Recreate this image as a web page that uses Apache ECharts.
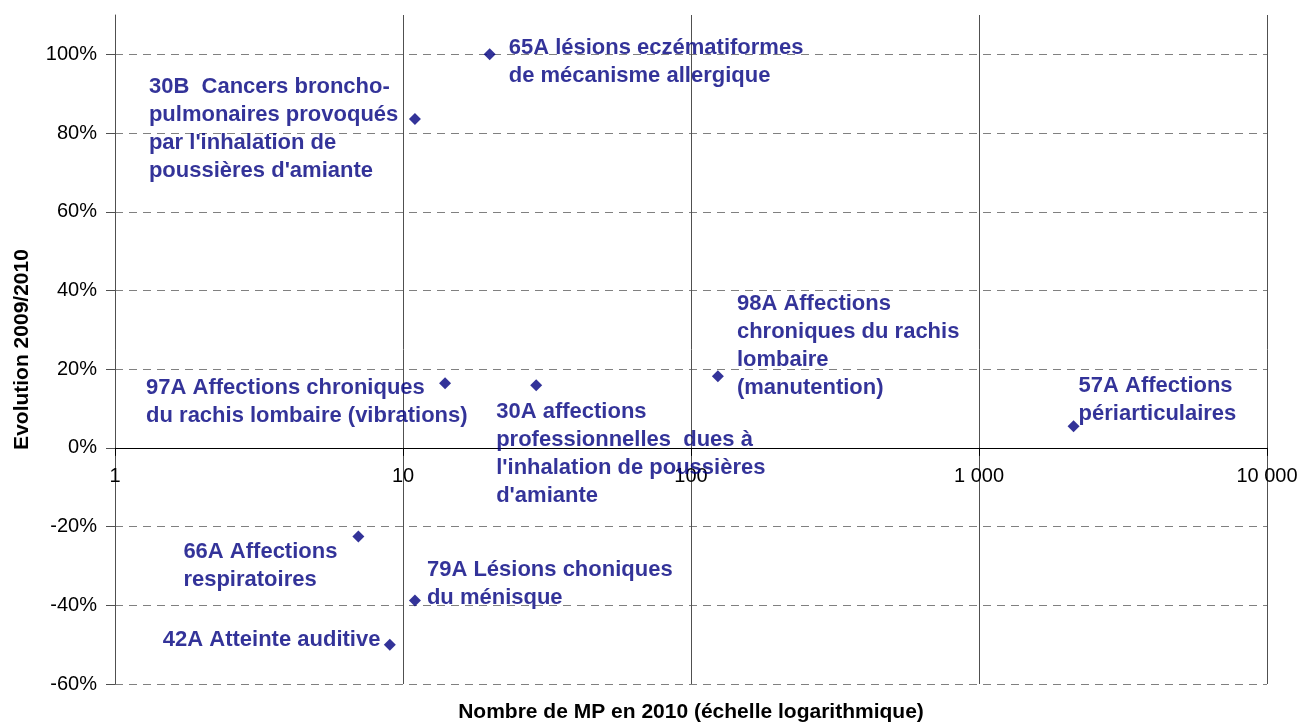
<!DOCTYPE html>
<html>
<head>
<meta charset="utf-8">
<script src="https://cdn.jsdelivr.net/npm/echarts@6/dist/echarts.min.js"></script>
<style>
html,body{margin:0;padding:0;background:#fff;}
#chart{width:1299px;height:722px;}
</style>
</head>
<body>
<div id="chart"></div>
<script>
// ---- data ----
const codes = ['30B', '65A', '97A', '30A', '98A', '57A', '66A', '79A', '42A'];
const labels = [
  "30B  Cancers broncho-\npulmonaires provoqués\npar l'inhalation de\npoussières d'amiante",
  "65A lésions eczématiformes\nde mécanisme allergique",
  "97A Affections chroniques\ndu rachis lombaire (vibrations)",
  "30A affections\nprofessionnelles  dues à\nl'inhalation de poussières\nd'amiante",
  "98A Affections\nchroniques du rachis\nlombaire\n(manutention)",
  "57A Affections\npériarticulaires",
  "66A Affections\nrespiratoires",
  "79A Lésions choniques\ndu ménisque",
  "42A Atteinte auditive"
];
const nombreMP2010 = [11, 20, 14, 29, 124, 2130, 7, 11, 9];
const evolution = [83.6, 100, 16.4, 15.9, 18.2, 5.5, -22.5, -38.8, -50.0];
const xTicks = [1, 10, 100, 1000, 10000];
const yTicks = [-60, -40, -20, 0, 20, 40, 60, 80, 100];
const yMin = -60, yMax = 110;

// label placement relative to each point (layout, not data)
const labelOffsets = [
  [-266, -46], [19, -20], [-299, -9], [-40, 13], [19, -86],
  [5, -54], [-175, 2], [12, -45], [-227, -19]
];

const FONT = 'Liberation Sans, Arial, sans-serif';
const NAVY = '#000080';

const W = 1299, H = 722;
const GRID = { left: 115, right: 32, top: 15, bottom: 38 };
const plotH = H - GRID.top - GRID.bottom;
// move x axis (line, ticks, labels) up to the y = 0 level
const xAxisOffset = -((0 - yMin) / (yMax - yMin)) * plotH;

const points = nombreMP2010.map((x, i) => ({
  name: codes[i],
  value: [x, evolution[i]],
  label: { offset: labelOffsets[i] }
}));

function fmtThousands(v) {
  return String(Math.round(v)).replace(/\B(?=(\d{3})+(?!\d))/g, ' ');
}

const splitColors = yTicks.map(() => '#808080').concat(['rgba(0,0,0,0)']);

const chart = echarts.init(document.getElementById('chart'), null, { renderer: 'canvas' });
chart.setOption({
  animation: false,
  backgroundColor: '#fff',
  grid: {
    left: GRID.left, right: GRID.right, top: GRID.top, bottom: GRID.bottom,
    containLabel: false, outerBoundsMode: 'none'
  },
  xAxis: {
    type: 'log',
    logBase: 10,
    min: xTicks[0],
    max: xTicks[xTicks.length - 1],
    position: 'bottom',
    offset: xAxisOffset,
    axisLine: { show: true, onZero: false, lineStyle: { color: '#000', width: 1 } },
    axisTick: { show: true, inside: false, length: 8, lineStyle: { color: '#000' } },
    axisLabel: {
      show: true, margin: 19, fontSize: 20, color: '#000', fontFamily: FONT,
      formatter: (v) => fmtThousands(v)
    },
    splitLine: { show: true, lineStyle: { color: '#505050', width: 1, type: 'solid' } },
    minorTick: { show: false },
    minorSplitLine: { show: false }
  },
  yAxis: {
    type: 'value',
    min: yMin,
    max: yMax,
    interval: 20,
    name: 'Evolution 2009/2010',
    nameLocation: 'middle',
    nameGap: 82,
    nameRotate: 90,
    nameTextStyle: { fontSize: 21, fontWeight: 'bold', color: '#000', fontFamily: FONT },
    axisLine: { show: true, onZero: false, lineStyle: { color: '#505050', width: 1 } },
    axisTick: { show: true, inside: false, length: 9, customValues: yTicks, lineStyle: { color: '#505050' } },
    axisLabel: {
      show: true, margin: 18, fontSize: 20, color: '#000', fontFamily: FONT,
      customValues: yTicks,
      formatter: (v) => (v > 100 ? '' : v + '%')
    },
    splitLine: { show: true, lineStyle: { color: splitColors, width: 1, type: [8, 6] } }
  },
  graphic: [{
    type: 'text',
    style: {
      x: GRID.left + (W - GRID.left - GRID.right) / 2,
      y: 712,
      text: 'Nombre de MP en 2010 (échelle logarithmique)',
      align: 'center',
      verticalAlign: 'middle',
      fontSize: 21, fontWeight: 'bold', fill: '#000', fontFamily: FONT
    }
  }],
  series: [{
    type: 'scatter',
    symbol: 'diamond',
    symbolSize: 12,
    itemStyle: { color: NAVY },
    data: points,
    label: {
      show: true,
      position: 'inside',
      align: 'left',
      verticalAlign: 'top',
      formatter: (p) => labels[p.dataIndex],
      fontSize: 22,
      lineHeight: 28,
      fontWeight: 'bold',
      color: NAVY,
      fontFamily: FONT
    },
    emphasis: { disabled: true }
  }]
});
</script>
</body>
</html>
